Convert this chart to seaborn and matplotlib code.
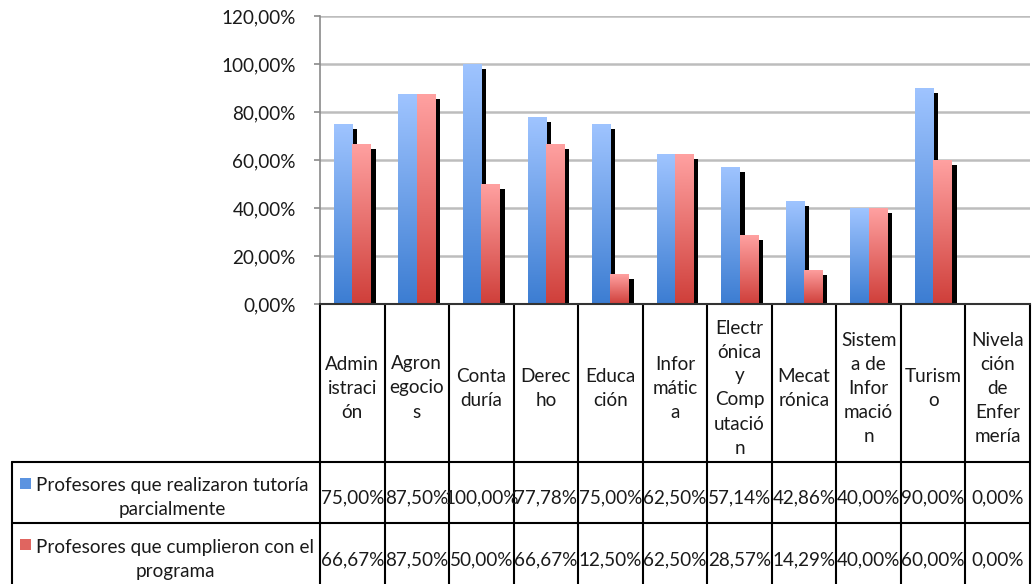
import numpy as np
import pandas as pd
import matplotlib
matplotlib.use("Agg")
import matplotlib.pyplot as plt
import matplotlib.patheffects as pe
from matplotlib.colors import LinearSegmentedColormap
import seaborn as sns

# ---------------- data ----------------
categories = ["Administración", "Agronegocios", "Contaduría", "Derecho", "Educación",
              "Informática", "Electrónica y Computación", "Mecatrónica",
              "Sistema de Información", "Turismo", "Nivelación de Enfermería"]
cat_labels = ["Admin\nistraci\nón", "Agron\negocio\ns", "Conta\nduría", "Derec\nho",
              "Educa\nción", "Infor\nmátic\na", "Electr\nónica\ny\nComp\nutació\nn",
              "Mecat\nrónica", "Sistem\na de\nInfor\nmació\nn", "Turism\no",
              "Nivela\nción\nde\nEnfer\nmería"]
series_names = ["Profesores que realizaron tutoría\nparcialmente",
                "Profesores que cumplieron con el\nprograma"]
parcial = [0.75, 0.875, 1.00, 0.7778, 0.75, 0.625, 0.5714, 0.4286, 0.40, 0.90, 0.0]
cumplieron = [0.6667, 0.875, 0.50, 0.6667, 0.125, 0.625, 0.2857, 0.1429, 0.40, 0.60, 0.0]
ytick_values = [0.0, 0.2, 0.4, 0.6, 0.8, 1.0, 1.2]

df = pd.DataFrame({
    "cat": categories * 2,
    "val": parcial + cumplieron,
    "serie": [series_names[0]] * len(categories) + [series_names[1]] * len(categories),
})

def pct(v):
    return f"{v*100:.2f}".replace(".", ",") + "%"

# ---------------- style ----------------
sns.set_theme(style="white")
plt.rcParams["font.family"] = ["Lato", "DejaVu Sans"]
FS = 13.6
TXT = "#1a1a1a"

W, H = 1033, 584
fig = plt.figure(figsize=(W / 100, H / 100), dpi=100)
ax_l, ax_r, ax_t, ax_b = 320, 1030, 16, 304
ax = fig.add_axes([ax_l / W, 1 - ax_b / H, (ax_r - ax_l) / W, (ax_b - ax_t) / H])

blue_grad = LinearSegmentedColormap.from_list("b", ["#3c7dd2", "#9fc4ff"])
red_grad = LinearSegmentedColormap.from_list("r", ["#cf3f3a", "#ffa1a1"])
palette = ["#5b93e0", "#e06560"]

sns.barplot(data=df, x="cat", y="val", hue="serie", palette=palette, width=0.57,
            saturation=1, legend=False, ax=ax, linewidth=0)

n = len(categories)
ax.set_xlim(-0.5, n - 0.5)
ax.set_ylim(0, 1.2)

shadow = [pe.SimplePatchShadow(offset=(3.6, -3.6), shadow_rgbFace="black", alpha=1.0), pe.Normal()]
grad = np.linspace(0, 1, 256).reshape(-1, 1)
for i, p in enumerate(ax.patches):
    h = p.get_height()
    if h <= 0:
        p.set_visible(False)
        continue
    p.set_path_effects(shadow)
    cmap = blue_grad if i < n else red_grad
    x0 = p.get_x()
    w = p.get_width()
    im = ax.imshow(grad, extent=[x0, x0 + w, 0, h], origin="lower", aspect="auto",
                   cmap=cmap, zorder=p.get_zorder() + 0.5, interpolation="bilinear")
    im.set_clip_path(p)

ax.set_xlim(-0.5, n - 0.5)
ax.set_ylim(0, 1.2)

# axes styling
ax.set_axisbelow(True)
ax.yaxis.grid(True, color="#bdbdbd", linewidth=1.8)
ax.xaxis.grid(False)
ax.set_yticks(ytick_values)
ax.set_yticklabels([pct(v) for v in ytick_values], fontsize=FS, color=TXT)
ax.tick_params(axis="y", length=4.5, width=1.2, color="#8a8a8a", pad=13, left=True)
ax.set_xticks([])
ax.set_xlabel("")
ax.set_ylabel("")
for s in ["top", "right"]:
    ax.spines[s].set_visible(False)
ax.spines["left"].set_color("#8a8a8a")
ax.spines["left"].set_linewidth(1.2)
ax.spines["bottom"].set_color("#333333")
ax.spines["bottom"].set_linewidth(1.5)

# ---------------- data table ----------------
axh = ax_b - ax_t
def ay(py):
    return (ax_b - py) / axh
def axx(px):
    return (px - ax_l) / (ax_r - ax_l)

tr = ax.transAxes
row_top = [462, 523]
row_bot = 584
lw = 1.5
# column lines
for k in range(n + 1):
    ax.plot([k / n, k / n], [0, ay(row_bot + 5)], color="black", lw=lw, transform=tr, clip_on=False)
# horizontal lines
for py in row_top:
    ax.plot([axx(12), 1], [ay(py), ay(py)], color="black", lw=lw, transform=tr, clip_on=False)
ax.plot([axx(12), axx(12)], [ay(row_top[0]), ay(row_bot + 5)], color="black", lw=lw,
        transform=tr, clip_on=False)

# header labels
for k, lab in enumerate(cat_labels):
    ax.text((k + 0.5) / n, ay(388), lab, transform=tr, ha="center", va="center",
            fontsize=FS, color=TXT, linespacing=1.5, clip_on=False)

# rows
row_centers = [498, 560]
marker_y = [483.5, 544]
label_cx = [172, 175]
marker_cols = ["#5b93e0", "#e06560"]
for r, (vals, name) in enumerate([(parcial, series_names[0]), (cumplieron, series_names[1])]):
    for k, v in enumerate(vals):
        ax.text((k + 0.5) / n, ay(row_centers[r]), pct(v), transform=tr, ha="center",
                va="center", fontsize=FS, color=TXT, clip_on=False)
    ax.text(axx(label_cx[r]), ay(row_centers[r]), name, transform=tr, ha="center", va="center",
            fontsize=FS, color=TXT, linespacing=1.5, multialignment="center", clip_on=False)
    ax.add_patch(plt.Rectangle((axx(20), ay(marker_y[r] + 5.5)), axx(31) - axx(20), 11 / axh,
                               transform=tr, color=marker_cols[r], clip_on=False, lw=0))

fig.savefig("out.png", dpi=100)
